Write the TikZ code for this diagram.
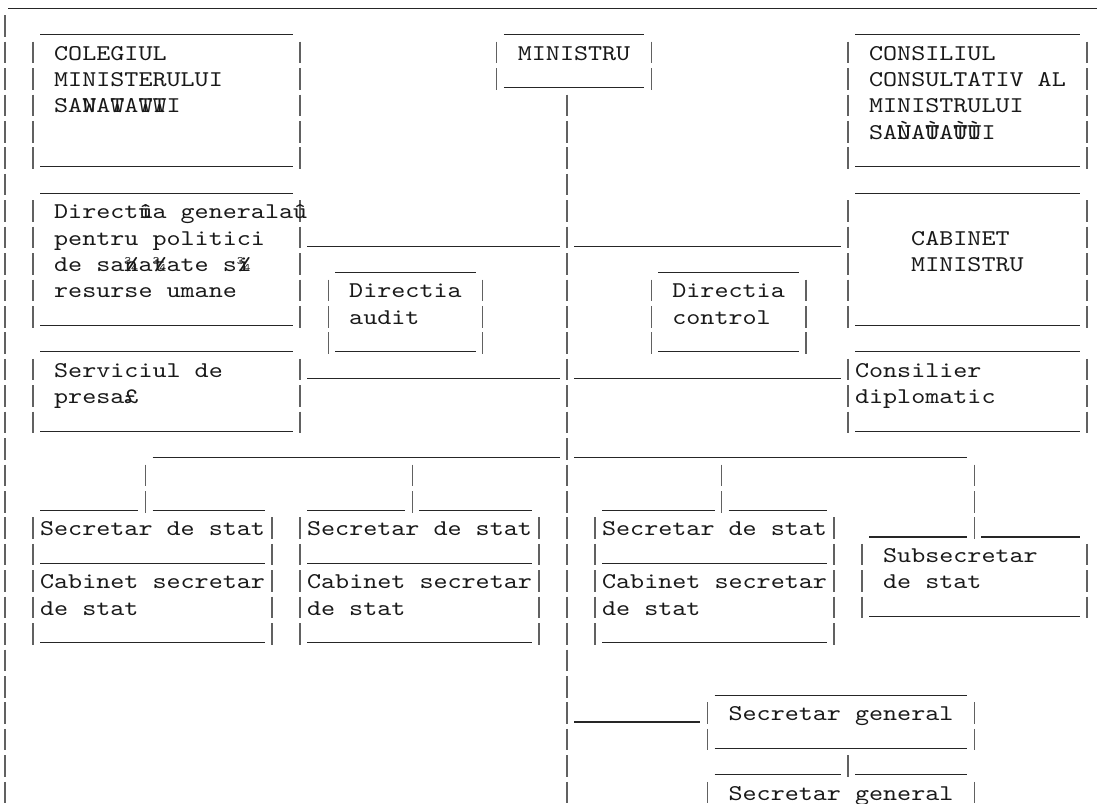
\documentclass[tikz,border=0pt]{standalone}
\usepackage{fontspec}
\newfontfamily\cour{lmmono10-regular.otf}[FakeStretch=1.19]
\newcommand\ov[2]{\rlap{#2}#1}
\tikzset{
  tx/.style={anchor=base west, inner sep=0pt, outer sep=0pt, text=black!90,
    font=\cour\fontsize{22.5pt}{26pt}\selectfont},
  usline/.style={line width=1.2pt, draw=black!85},
  vbline/.style={line width=1.3pt, draw=black!62, dash pattern=on 21.6pt off 4.83pt},
}
% row k, from col a to col b (inclusive)
\newcommand\us[3]{\draw[usline] ({#2-0.1441},{#1+0.314}) -- ({#3+0.8559},{#1+0.314});}
% col c, from row k1 to row k2
\newcommand\vb[3]{\draw[vbline] ({#1+0.3559},{#2-0.4222}) -- ({#1+0.3559},{#3+0.395});}
% name, col, row, text
\newcommand\txt[4]{\node[tx] (#1) at ({#2-0.1441},{#3+0.2701}) {#4};}
\begin{document}
\begin{tikzpicture}[x=14.05pt,y=-26.43pt]
\useasboundingbox (0,0) rectangle (78.078,30.382);
\fill[white] (0,0) rectangle (78.078,30.382);
% top line
\draw[usline] (0.59,0.314) -- (78.2,0.314);
% left border and trunk
\vb{0}{1}{30}
\vb{40}{4}{30}
% top boxes
\us{1}{3}{20} \us{1}{36}{45} \us{1}{61}{76}
\vb{2}{2}{6} \vb{21}{2}{6} \vb{35}{2}{3} \vb{46}{2}{3} \vb{60}{2}{6} \vb{77}{2}{6}
\us{3}{36}{45}
\us{6}{3}{20} \us{6}{61}{76}
\txt{colA}{4}{2}{COLEGIUL}
\txt{colB}{4}{3}{MINISTERULUI}
\txt{colC}{4}{4}{SA\ov{N}{W}A\ov{T}{W}A\ov{T}{W}\ov{I}{W}I}
\txt{min}{37}{2}{MINISTRU}
\txt{consA}{62}{2}{CONSILIUL}
\txt{consB}{62}{3}{CONSULTATIV AL}
\txt{consC}{62}{4}{MINISTRULUI}
\txt{consD}{62}{5}{SA\ov{N}{Ù}A\ov{T}{Ù}A\ov{T}{Ù}\ov{I}{Ù}I}
% second band
\us{7}{3}{20} \us{7}{61}{76}
\vb{2}{8}{12} \vb{21}{8}{12} \vb{60}{8}{12} \vb{77}{8}{12}
\us{9}{22}{39} \us{9}{41}{59}
\us{12}{3}{20} \us{12}{61}{76}
\txt{dgA}{4}{8}{Direct\ov{i}{û}a generalaû}
\txt{dgB}{4}{9}{pentru politici}
\txt{dgC}{4}{10}{de sa\ov{n}{¾}a\ov{t}{¾}ate s\ov{i}{¾}}
\txt{dgD}{4}{11}{resurse umane}
\txt{cabA}{65}{9}{CABINET}
\txt{cabB}{65}{10}{MINISTRU}
% audit / control
\us{10}{24}{33} \us{10}{47}{56}
\vb{23}{11}{13} \vb{34}{11}{13} \vb{46}{11}{13} \vb{57}{11}{13}
\us{13}{24}{33} \us{13}{47}{56}
\txt{audA}{25}{11}{Directia}
\txt{audB}{25}{12}{audit}
\txt{ctlA}{48}{11}{Directia}
\txt{ctlB}{48}{12}{control}
% third band
\us{13}{3}{20} \us{13}{61}{76}
\vb{2}{14}{16} \vb{21}{14}{16} \vb{60}{14}{16} \vb{77}{14}{16}
\us{14}{22}{39} \us{14}{41}{59}
\us{16}{3}{20} \us{16}{61}{76}
\txt{serA}{4}{14}{Serviciul de}
\txt{serB}{4}{15}{presa£}
\txt{conA}{61}{14}{Consilier}
\txt{conB}{61}{15}{diplomatic}
% secretaries
\us{17}{11}{39} \us{17}{41}{68}
\vb{10}{18}{19} \vb{29}{18}{19} \vb{51}{18}{19} \vb{69}{18}{20}
\us{19}{3}{9} \us{19}{11}{18} \us{19}{22}{28} \us{19}{30}{37} \us{19}{43}{50} \us{19}{52}{58}
\vb{2}{20}{24} \vb{19}{20}{24} \vb{21}{20}{24} \vb{38}{20}{24} \vb{42}{20}{24} \vb{59}{20}{24}
\us{21}{3}{18} \us{21}{22}{37} \us{21}{43}{58}
\us{24}{3}{18} \us{24}{22}{37} \us{24}{43}{58}
\txt{ssA}{3}{20}{Secretar de stat}
\txt{csA}{3}{22}{Cabinet secretar}
\txt{dsA}{3}{23}{de stat}
\txt{ssB}{22}{20}{Secretar de stat}
\txt{csB}{22}{22}{Cabinet secretar}
\txt{dsB}{22}{23}{de stat}
\txt{ssC}{43}{20}{Secretar de stat}
\txt{csC}{43}{22}{Cabinet secretar}
\txt{dsC}{43}{23}{de stat}
% subsecretar
\us{20}{62}{68} \us{20}{70}{76}
\vb{61}{21}{23} \vb{77}{21}{23}
\us{23}{62}{76}
\txt{subA}{63}{21}{Subsecretar}
\txt{subB}{63}{22}{de stat}
% secretar general
\us{26}{51}{68}
\vb{50}{27}{28} \vb{69}{27}{28}
\us{27}{41}{49}
\us{28}{51}{68}
\txt{sgA}{52}{27}{Secretar general}
\us{29}{51}{59} \us{29}{61}{68}
\vb{60}{29}{29}
\vb{50}{30}{30} \vb{69}{30}{30}
\txt{sgB}{52}{30}{Secretar general}
\end{tikzpicture}
\end{document}
